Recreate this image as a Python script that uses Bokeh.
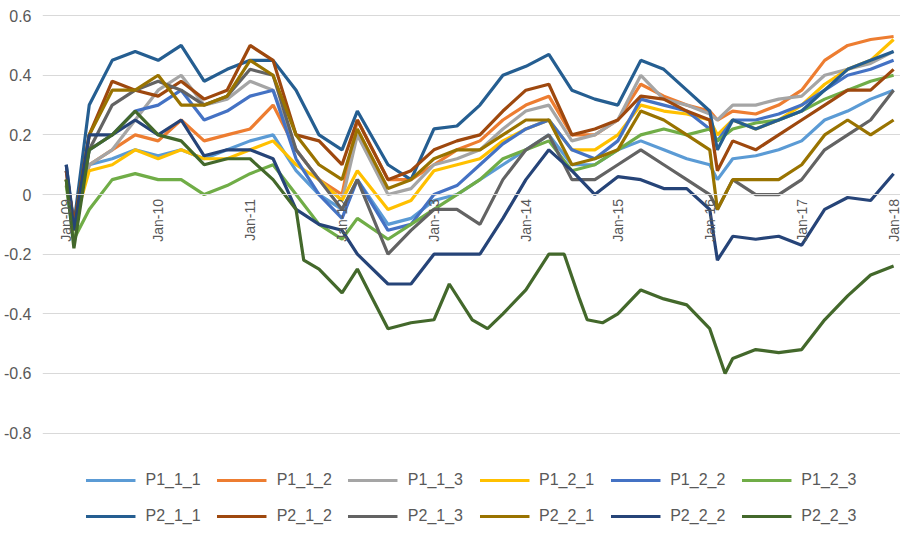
import numpy as np
from bokeh.plotting import figure
from bokeh.models import FixedTicker, Legend, LegendItem, ColumnDataSource, Span
from bokeh.core.properties import value
from bokeh.embed import file_html
from bokeh.resources import INLINE

T = [0,1,3,6,9,12,15,18,21,24,27,30,33,36,38,42,45,48,51,54,57,60,63,66,69,72,75,78,81,84,85,87,90,93,96,99,102,105,108]
series = {
 "P1_1_1": [0.05,-0.1,0.1,0.12,0.15,0.13,0.15,0.12,0.15,0.18,0.2,0.08,0.0,-0.05,0.05,-0.1,-0.08,-0.02,0.0,0.05,0.1,0.15,0.2,0.1,0.1,0.15,0.18,0.15,0.12,0.1,0.05,0.12,0.13,0.15,0.18,0.25,0.28,0.32,0.35],
 "P1_1_2": [0.08,-0.1,0.1,0.15,0.2,0.18,0.25,0.18,0.2,0.22,0.3,0.15,0.05,0.0,0.25,0.05,0.05,0.1,0.15,0.18,0.25,0.3,0.33,0.2,0.2,0.25,0.37,0.33,0.3,0.28,0.25,0.28,0.27,0.3,0.35,0.45,0.5,0.52,0.53],
 "P1_1_3": [0.05,-0.1,0.1,0.15,0.25,0.35,0.4,0.3,0.32,0.38,0.35,0.15,0.05,-0.02,0.2,0.0,0.02,0.1,0.12,0.15,0.22,0.28,0.3,0.18,0.2,0.25,0.4,0.32,0.3,0.27,0.25,0.3,0.3,0.32,0.33,0.4,0.42,0.44,0.48],
 "P1_2_1": [0.05,-0.1,0.08,0.1,0.15,0.12,0.15,0.12,0.12,0.15,0.18,0.1,0.05,-0.02,0.08,-0.05,-0.02,0.08,0.1,0.12,0.18,0.22,0.25,0.15,0.15,0.2,0.3,0.28,0.27,0.25,0.2,0.25,0.22,0.25,0.3,0.37,0.42,0.45,0.52],
 "P1_2_2": [0.08,-0.1,0.15,0.2,0.28,0.3,0.35,0.25,0.28,0.33,0.35,0.12,0.0,-0.08,0.05,-0.12,-0.1,0.0,0.03,0.1,0.17,0.22,0.25,0.15,0.12,0.18,0.32,0.3,0.28,0.22,0.18,0.25,0.25,0.27,0.3,0.35,0.4,0.42,0.45],
 "P1_2_3": [0.03,-0.15,-0.05,0.05,0.07,0.05,0.05,0.0,0.03,0.07,0.1,0.0,-0.1,-0.15,-0.08,-0.15,-0.1,-0.05,0.0,0.05,0.12,0.15,0.18,0.08,0.1,0.15,0.2,0.22,0.2,0.22,0.18,0.22,0.24,0.25,0.28,0.32,0.35,0.38,0.4],
 "P2_1_1": [0.1,-0.1,0.3,0.45,0.48,0.45,0.5,0.38,0.42,0.45,0.45,0.35,0.2,0.15,0.28,0.1,0.05,0.22,0.23,0.3,0.4,0.43,0.47,0.35,0.32,0.3,0.45,0.42,0.35,0.28,0.15,0.25,0.22,0.25,0.28,0.35,0.42,0.45,0.48],
 "P2_1_2": [0.08,-0.1,0.2,0.38,0.35,0.33,0.38,0.32,0.35,0.5,0.45,0.2,0.18,0.1,0.25,0.05,0.08,0.15,0.18,0.2,0.28,0.35,0.37,0.2,0.22,0.25,0.33,0.32,0.28,0.25,0.08,0.18,0.15,0.2,0.25,0.3,0.35,0.35,0.42],
 "P2_1_3": [0.05,-0.12,0.15,0.3,0.35,0.38,0.35,0.3,0.33,0.42,0.4,0.15,0.05,-0.05,0.05,-0.2,-0.12,-0.05,-0.05,-0.1,0.05,0.15,0.2,0.05,0.05,0.1,0.15,0.1,0.05,0.0,-0.05,0.05,0.0,0.0,0.05,0.15,0.2,0.25,0.35],
 "P2_2_1": [0.05,-0.12,0.2,0.35,0.35,0.4,0.3,0.3,0.33,0.45,0.4,0.2,0.1,0.05,0.22,0.02,0.05,0.12,0.15,0.15,0.2,0.25,0.25,0.1,0.12,0.15,0.28,0.25,0.2,0.15,-0.05,0.05,0.05,0.05,0.1,0.2,0.25,0.2,0.25],
 "P2_2_2": [0.1,-0.12,0.2,0.2,0.25,0.2,0.25,0.13,0.15,0.15,0.12,-0.05,-0.1,-0.12,-0.2,-0.3,-0.3,-0.2,-0.2,-0.2,-0.08,0.05,0.15,0.08,0.0,0.06,0.05,0.02,0.02,-0.05,-0.22,-0.14,-0.15,-0.14,-0.17,-0.05,-0.01,-0.02,0.07],
}
T23 = [0,1,3,6,9,12,15,18,21,24,27,30,31,33,36,38,40,42,45,48,50,53,55,57,60,63,65,67,68,70,72,75,78,81,84,86,87,90,93,96,99,102,105,108]
P2_2_3 = [0.05,-0.18,0.15,0.2,0.28,0.2,0.18,0.1,0.12,0.12,0.05,-0.05,-0.22,-0.25,-0.33,-0.25,-0.35,-0.45,-0.43,-0.42,-0.3,-0.42,-0.45,-0.4,-0.32,-0.2,-0.2,-0.35,-0.42,-0.43,-0.4,-0.32,-0.35,-0.37,-0.45,-0.6,-0.55,-0.52,-0.53,-0.52,-0.42,-0.34,-0.27,-0.24]

colors = {"P1_1_1":"#5B9BD5","P1_1_2":"#ED7D31","P1_1_3":"#A5A5A5","P1_2_1":"#FFC000","P1_2_2":"#4472C4","P1_2_3":"#70AD47",
          "P2_1_1":"#255E91","P2_1_2":"#9E480E","P2_1_3":"#636363","P2_2_1":"#997300","P2_2_2":"#264478","P2_2_3":"#43682B"}
x_ticks = [0,12,24,36,48,60,72,84,96,108]
x_labels = ["Jan-09","Jan-10","Jan-11","Jan-12","Jan-13","Jan-14","Jan-15","Jan-16","Jan-17","Jan-18"]
y_ticks = [-0.8,-0.6,-0.4,-0.2,0,0.2,0.4,0.6]
y_labels = ["-0.8","-0.6","-0.4","-0.2","0","0.2","0.4","0.6"]

p = figure(width=900, height=528, output_backend="svg", toolbar_location=None,
           x_range=(-3.1, 108.9), y_range=(-1.12, 0.634), min_border_left=10, min_border_top=5,
           min_border_right=0, min_border_bottom=0)
p.outline_line_color = None
p.xaxis.visible = False
p.xgrid.visible = False
p.ygrid.grid_line_color = "#D9D9D9"
p.yaxis.ticker = FixedTicker(ticks=y_ticks)
p.yaxis.major_label_overrides = {t: l for t, l in zip(y_ticks, y_labels)}
p.yaxis.axis_line_color = None
p.yaxis.major_tick_line_color = None
p.yaxis.minor_tick_line_color = None
p.yaxis.major_label_text_font = "Liberation Sans"
p.yaxis.major_label_text_font_size = "16px"
p.yaxis.major_label_text_color = "#595959"
p.add_layout(Span(location=0, dimension="width", line_color="#D9D9D9", line_width=1))

items = []
for name in ["P1_1_1","P1_1_2","P1_1_3","P1_2_1","P1_2_2","P1_2_3","P2_1_1","P2_1_2","P2_1_3","P2_2_1","P2_2_2"]:
    r = p.line(T, series[name], line_color=colors[name], line_width=3.2)
    items.append(LegendItem(label=name, renderers=[r]))
r = p.line(T23, P2_2_3, line_color=colors["P2_2_3"], line_width=3.2)
items.append(LegendItem(label="P2_2_3", renderers=[r]))

src = ColumnDataSource(dict(x=x_ticks, y=[-0.015]*len(x_ticks), t=x_labels))
p.text(x="x", y="y", text="t", source=src, angle=np.pi/2, text_align="right", text_baseline="middle",
       text_font=value("Liberation Sans"), text_font_size="14px", text_color="#595959")

leg = Legend(items=items, ncols=6, location="bottom_center", orientation="horizontal",
             label_text_font="Liberation Sans", label_text_font_size="16px", label_text_color="#595959",
             border_line_color=None, background_fill_alpha=0, glyph_width=50, spacing=16,
             padding=0, margin=2, label_standoff=10, label_height=20, glyph_height=20)
p.add_layout(leg)

open("out.html", "w").write(file_html(p, INLINE))
